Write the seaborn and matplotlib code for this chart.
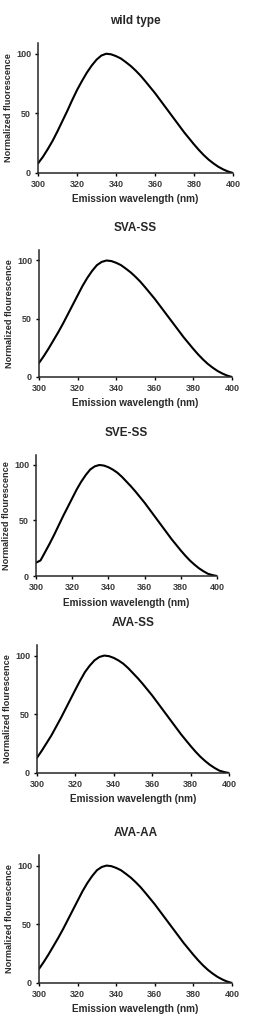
import numpy as np
import pandas as pd
import seaborn as sns
import matplotlib
matplotlib.use("Agg")
import matplotlib.pyplot as plt

# emission wavelengths (nm) and normalized fluorescence
wavelength = [300, 302.5, 305, 307.5, 310, 312.5, 315, 317.5, 320, 322.5,
              325, 327.5, 330, 332.5, 335, 337.5, 340, 342.5, 345, 347.5,
              350, 352.5, 355, 357.5, 360, 362.5, 365, 367.5, 370, 372.5,
              375, 377.5, 380, 382.5, 385, 387.5, 390, 392.5, 395, 397.5, 400]

wild_type = [8, 13.5, 20, 27, 35, 43.5, 52, 61, 69.5, 77,
             84, 90, 95, 98.5, 100, 99.5, 98, 96, 93, 89.8,
             86, 81.8, 77, 72, 67, 61.5, 56, 50.5, 45, 39.5,
             34, 29, 24, 19.3, 15, 11.2, 8, 5.2, 3, 1.2, 0]
sva_ss = [12, 18, 24.5, 31.5, 38.5, 46, 54, 62, 70, 78,
          85, 91, 96, 98.8, 100, 99.5, 98, 96, 93, 89.8,
          86, 81.8, 77, 72, 67, 61.5, 56, 50.5, 45, 39.5,
          34, 29, 24, 19.3, 15, 11.2, 8, 5.2, 3, 1.2, 0]
sve_ss = [12, 14, 21.5, 29, 37, 45.5, 54, 62, 70, 78,
          85, 91, 96, 98.8, 100, 99.5, 98, 95.8, 93, 89.3,
          85, 80.7, 76, 71, 66, 60.5, 55, 49.5, 44, 38.5,
          33, 28, 23, 18.3, 14, 10.3, 7, 4.3, 2, 0.8, 0]
ava_ss = [13, 19, 25.5, 32, 39.5, 47, 55, 63, 71, 78.8,
          86, 91.5, 96, 98.8, 100, 99.5, 98, 95.8, 93, 89.3,
          85, 80.7, 76, 71, 66, 60.5, 55, 49.5, 44, 38.5,
          33, 28, 23, 18.3, 14, 10.3, 7, 4.3, 2, 0.8, 0]
ava_aa = [12, 18, 24.5, 31.5, 38.5, 46, 54, 62, 70, 78,
          85, 91, 96, 98.8, 100, 99.5, 98, 96, 93, 89.8,
          86, 81.8, 77, 72, 67, 61.5, 56, 50.5, 45, 39.5,
          34, 29, 24, 19.3, 15, 11.2, 8, 5.2, 3, 1.2, 0]

titles = ["wild type", "SVA-SS", "SVE-SS", "AVA-SS", "AVA-AA"]
ylabels = ["Normalized fluorescence", "Normalized flourescence",
           "Normalized flourescence", "Normalized flourescence",
           "Normalized flourescence"]
series = [wild_type, sva_ss, sve_ss, ava_ss, ava_aa]

# axes boxes in pixels: left, right, top, bottom
boxes = [(38, 233, 43, 173),
         (39, 232, 250, 377),
         (36, 217, 455, 576),
         (37, 229, 645, 773),
         (39, 232, 855, 983)]

sns.set_style("ticks")
plt.rcParams['font.family'] = ['Liberation Sans', 'DejaVu Sans']

W, H = 255, 1027
fig = plt.figure(figsize=(W / 100, H / 100), dpi=100)

for title, ylab, vals, (l, r, t, b) in zip(titles, ylabels, series, boxes):
    ax = fig.add_axes([l / W, 1 - b / H, (r - l) / W, (b - t) / H])
    df = pd.DataFrame({"wl": wavelength, "f": vals})
    sns.lineplot(data=df, x="wl", y="f", ax=ax, color="black", linewidth=1.5,
                 solid_joinstyle="round")
    ax.set_xlim(300, 400)
    ax.set_ylim(0, 109)
    ax.set_xticks([300, 320, 340, 360, 380, 400])
    ax.set_yticks([0, 50, 100])
    ax.tick_params(labelsize=6.5, length=2.5, width=1, pad=2.5, colors="black",
                   labelcolor="#3a3a3a")
    for lbl in ax.get_xticklabels() + ax.get_yticklabels():
        lbl.set_fontweight("bold")
    sns.despine(ax=ax)
    for s in ["left", "bottom"]:
        ax.spines[s].set_linewidth(1.1)
    ax.set_xlabel("Emission wavelength (nm)", fontsize=7.2, fontweight="bold",
                  color="#2a2a2a", labelpad=4)
    ax.set_ylabel(ylab, fontsize=6.6, fontweight="bold", color="#2a2a2a",
                  labelpad=2)
    fig.text((l + r) / 2 / W, 1 - (t - 22) / H, title, ha="center",
             va="center", fontsize=8.5, fontweight="bold")

fig.savefig("out.png", dpi=100, facecolor="white")
